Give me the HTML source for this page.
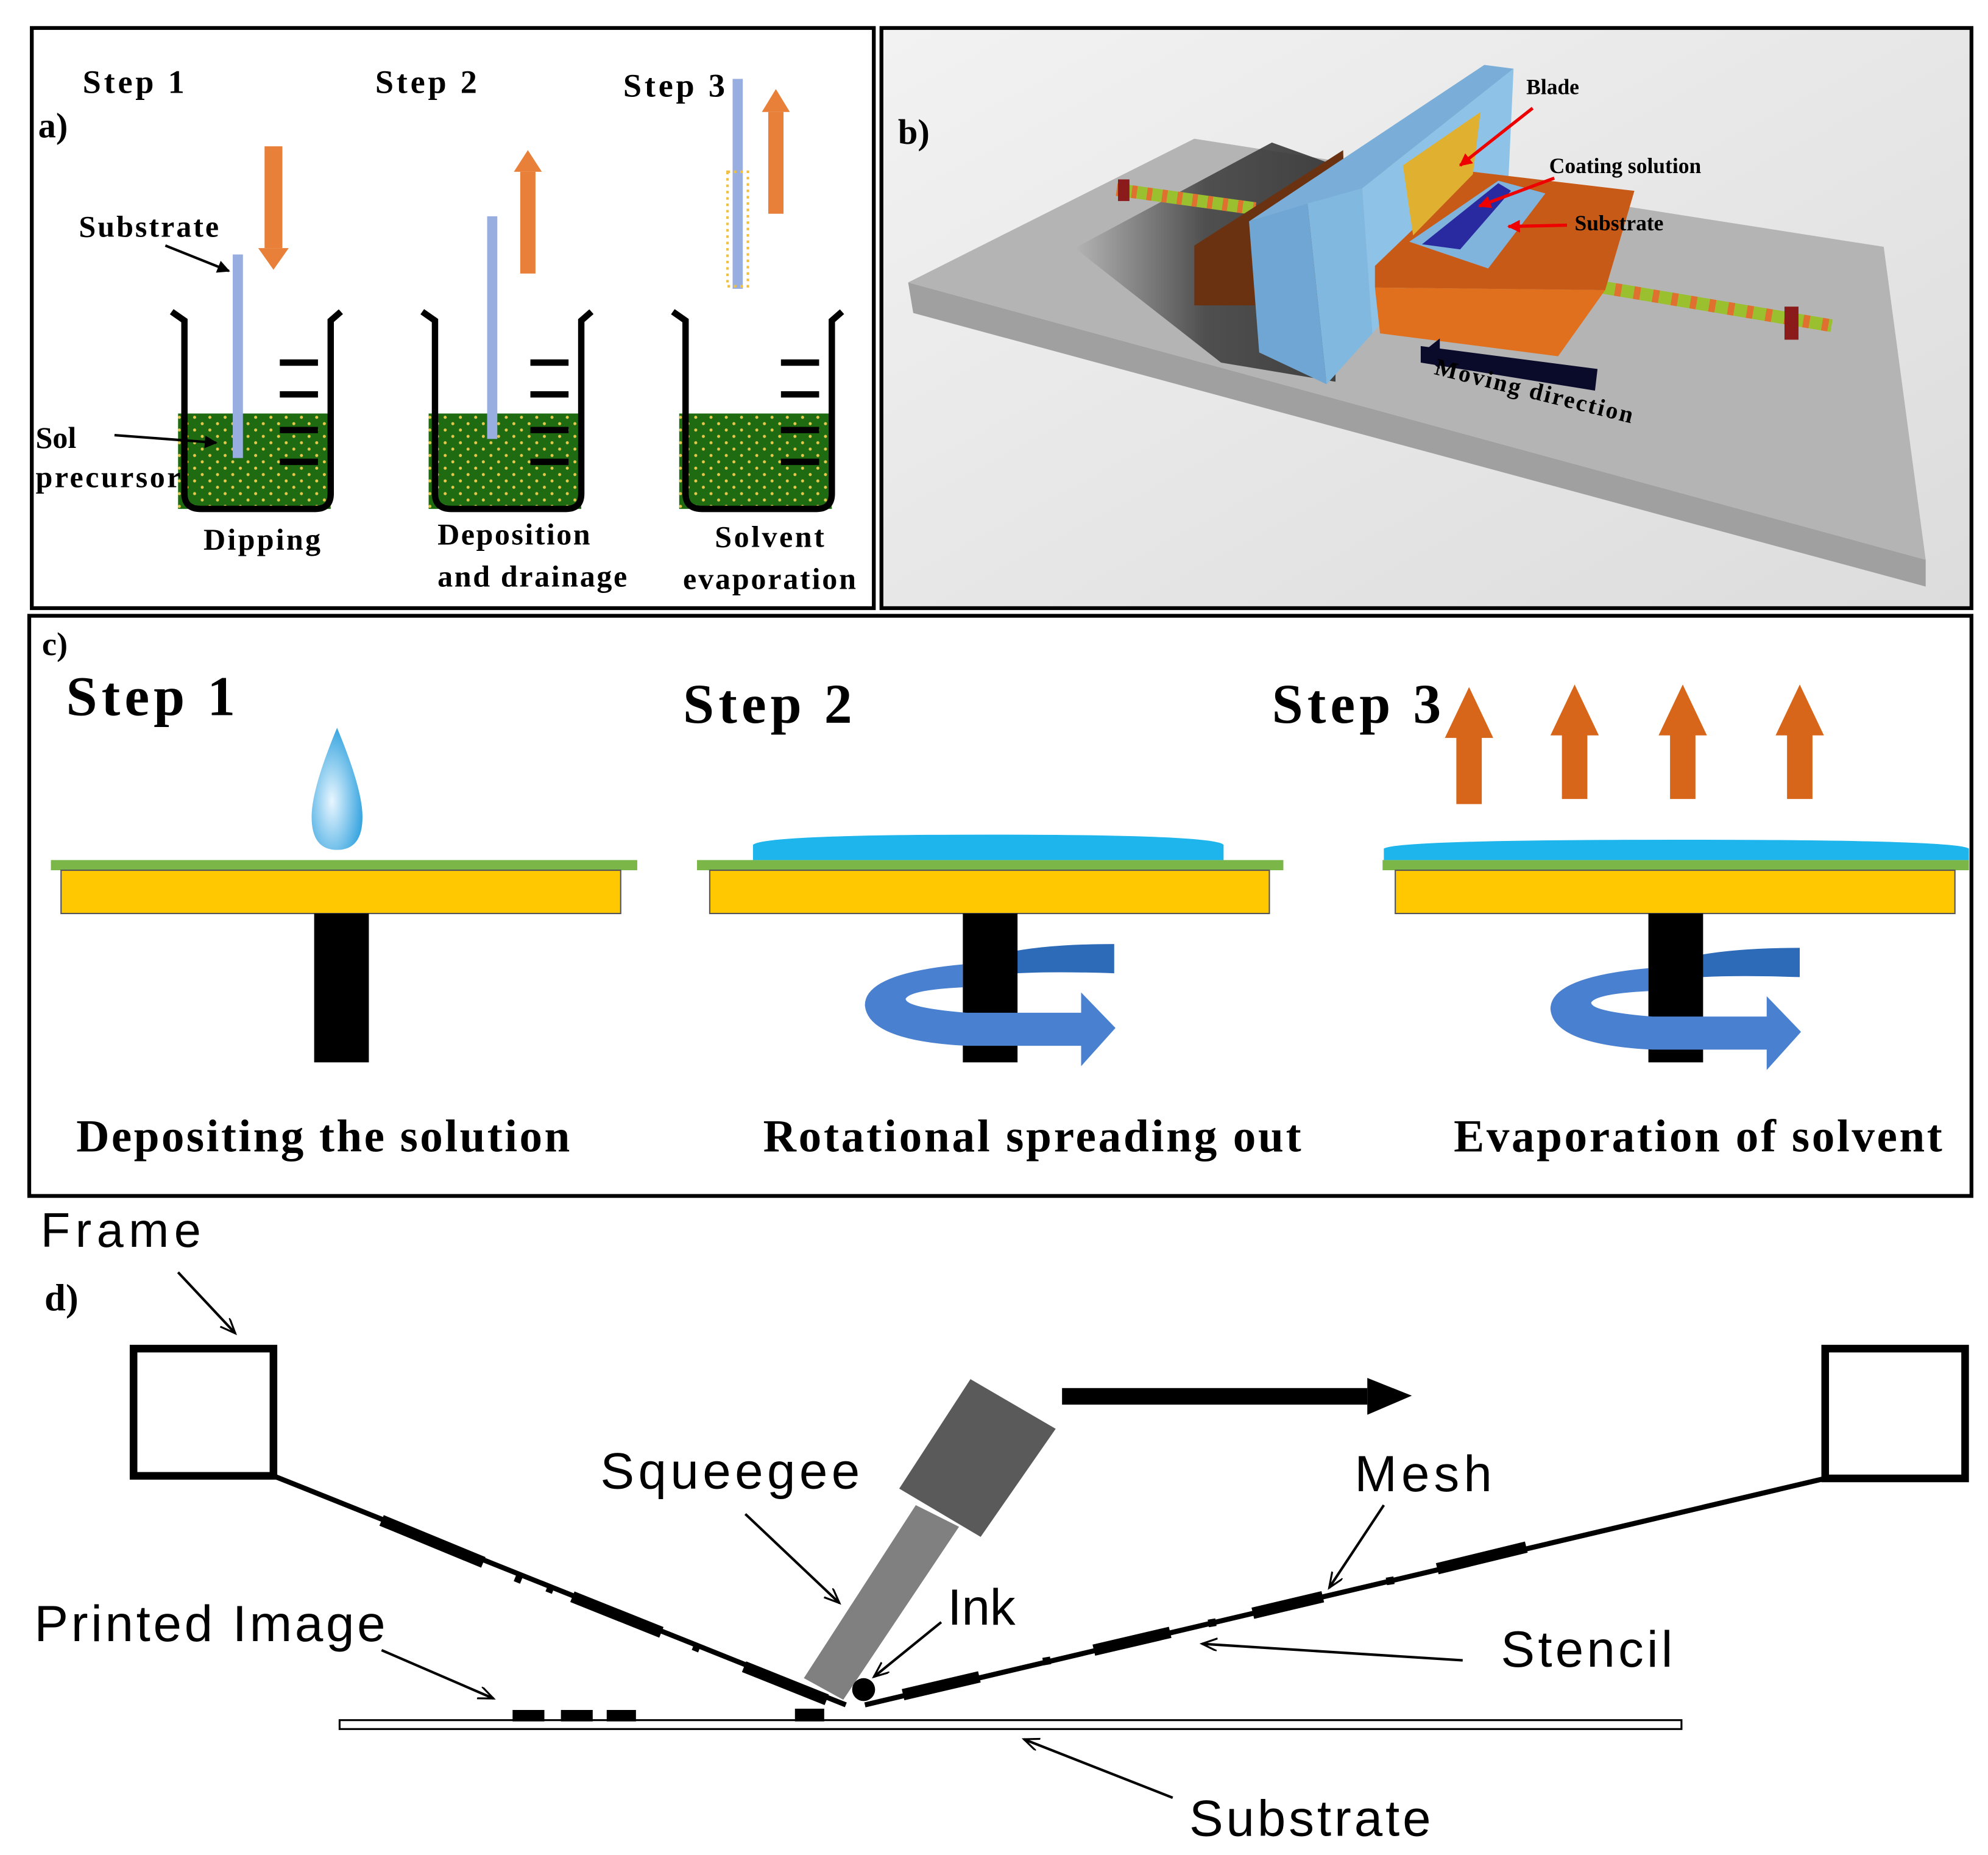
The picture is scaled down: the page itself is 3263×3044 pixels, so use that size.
<!DOCTYPE html>
<html><head><meta charset="utf-8"><style>
html,body{margin:0;padding:0;background:#fff;}
svg{display:block;}
.s{font-family:"Liberation Serif",serif;font-weight:bold;fill:#000;}
.a{font-family:"Liberation Sans",sans-serif;fill:#000;}
</style></head><body>
<svg width="3263" height="3044" viewBox="0 0 1563 1458" preserveAspectRatio="none" xmlns="http://www.w3.org/2000/svg">
<defs>
<marker id="ar" markerWidth="10" markerHeight="10" refX="9" refY="5" orient="auto" markerUnits="userSpaceOnUse"><path d="M0,0 L10,5 L0,10 z" fill="#000"/></marker>
<marker id="ao" markerWidth="14" markerHeight="14" refX="12" refY="5" orient="auto" markerUnits="userSpaceOnUse"><path d="M0,0 L12,5 L0,10" fill="none" stroke="#000" stroke-width="1.5"/></marker>
<marker id="rr" markerWidth="10" markerHeight="10" refX="9" refY="5" orient="auto" markerUnits="userSpaceOnUse"><path d="M0,0 L10,5 L0,10 z" fill="#e00"/></marker>
<pattern id="dots" width="12" height="10" patternUnits="userSpaceOnUse"><rect width="12" height="10" fill="#1e6b12"/><circle cx="3" cy="3" r="1.2" fill="#e8c84a"/><circle cx="9" cy="8" r="1.2" fill="#e8c84a"/></pattern>
<linearGradient id="bg" x1="0" y1="0" x2="1" y2="1"><stop offset="0" stop-color="#f2f2f2"/><stop offset="1" stop-color="#dcdcdc"/></linearGradient>
<linearGradient id="sh" x1="0" y1="0" x2="1" y2="0"><stop offset="0" stop-color="#b4b4b4"/><stop offset="0.5" stop-color="#444"/><stop offset="1" stop-color="#333"/></linearGradient>
<radialGradient id="drop" cx="0.4" cy="0.6" r="0.6"><stop offset="0" stop-color="#e8f6ff"/><stop offset="1" stop-color="#3aa6e0"/></radialGradient>
</defs>

<!-- Panel a -->
<rect x="25" y="22" width="662" height="456" fill="#fff" stroke="#000" stroke-width="3"/>
<text class="s" x="65" y="73" font-size="26" textLength="80">Step 1</text>
<text class="s" x="295" y="73" font-size="26" textLength="80">Step 2</text>
<text class="s" x="490" y="76" font-size="26" textLength="80">Step 3</text>
<text class="s" x="30" y="108" font-size="28">a)</text>
<text class="s" x="62" y="186" font-size="24" textLength="110">Substrate</text>
<line x1="130" y1="193" x2="180" y2="213" stroke="#000" stroke-width="2" marker-end="url(#ar)"/>
<g>
<rect x="140" y="325" width="120" height="75" fill="url(#dots)"/>
<path d="M135,245 L145,252 L145,388 Q145,400 158,400 L248,400 Q260,400 260,388 L260,252 L268,245" fill="none" stroke="#000" stroke-width="5"/>
<line x1="220" y1="285" x2="250" y2="285" stroke="#000" stroke-width="5"/><line x1="220" y1="310" x2="250" y2="310" stroke="#000" stroke-width="5"/>
<line x1="220" y1="338" x2="250" y2="338" stroke="#000" stroke-width="5"/><line x1="220" y1="363" x2="250" y2="363" stroke="#000" stroke-width="5"/>
<rect x="183" y="200" width="8" height="160" fill="#98aee0"/>
<rect x="208" y="115" width="14" height="80" fill="#e8803a"/><path d="M203,195 L227,195 L215,212 z" fill="#e8803a"/>
</g>
<g transform="translate(197,0)">
<rect x="140" y="325" width="120" height="75" fill="url(#dots)"/>
<path d="M135,245 L145,252 L145,388 Q145,400 158,400 L248,400 Q260,400 260,388 L260,252 L268,245" fill="none" stroke="#000" stroke-width="5"/>
<line x1="220" y1="285" x2="250" y2="285" stroke="#000" stroke-width="5"/><line x1="220" y1="310" x2="250" y2="310" stroke="#000" stroke-width="5"/>
<line x1="220" y1="338" x2="250" y2="338" stroke="#000" stroke-width="5"/><line x1="220" y1="363" x2="250" y2="363" stroke="#000" stroke-width="5"/>
<rect x="186" y="170" width="8" height="175" fill="#98aee0"/>
<rect x="212" y="135" width="12" height="80" fill="#e8803a"/><path d="M207,135 L229,135 L218,118 z" fill="#e8803a"/>
</g>
<g transform="translate(394,0)">
<rect x="140" y="325" width="120" height="75" fill="url(#dots)"/>
<path d="M135,245 L145,252 L145,388 Q145,400 158,400 L248,400 Q260,400 260,388 L260,252 L268,245" fill="none" stroke="#000" stroke-width="5"/>
<line x1="220" y1="285" x2="250" y2="285" stroke="#000" stroke-width="5"/><line x1="220" y1="310" x2="250" y2="310" stroke="#000" stroke-width="5"/>
<line x1="220" y1="338" x2="250" y2="338" stroke="#000" stroke-width="5"/><line x1="220" y1="363" x2="250" y2="363" stroke="#000" stroke-width="5"/>
<rect x="182" y="62" width="8" height="165" fill="#98aee0"/>
<rect x="178" y="135" width="16" height="90" fill="none" stroke="#f0c040" stroke-width="2" stroke-dasharray="2 3"/>
<rect x="210" y="88" width="12" height="80" fill="#e8803a"/><path d="M205,88 L227,88 L216,70 z" fill="#e8803a"/>
</g>
<text class="s" x="28" y="352" font-size="24" font-weight="normal">Sol</text>
<text class="s" x="28" y="383" font-size="24" font-weight="normal" textLength="114">precursor</text>
<line x1="90" y1="342" x2="170" y2="348" stroke="#000" stroke-width="2" marker-end="url(#ar)"/>
<text class="s" x="160" y="432" font-size="24" textLength="92">Dipping</text>
<text class="s" x="344" y="428" font-size="24" textLength="120">Deposition</text>
<text class="s" x="344" y="461" font-size="24" textLength="149">and drainage</text>
<text class="s" x="562" y="430" font-size="24" textLength="86">Solvent</text>
<text class="s" x="537" y="463" font-size="24" textLength="136">evaporation</text>

<!-- Panel b -->
<rect x="693" y="22" width="857" height="456" fill="url(#bg)" stroke="#000" stroke-width="3"/>
<polygon points="714,222 939,109 1481,194 1514,440" fill="#b4b4b4"/>
<polygon points="714,222 1514,440 1514,461 718,246" fill="#a0a0a0"/>
<polygon points="845,195 1000,112 1050,130 1050,300 960,285" fill="url(#sh)" opacity="0.9"/>
<line x1="878" y1="149" x2="987" y2="164" stroke="#9ac030" stroke-width="10"/>
<line x1="878" y1="149" x2="987" y2="164" stroke="#e07030" stroke-width="10" stroke-dasharray="4 8"/>
<rect x="879" y="141" width="9" height="17" fill="#8b1a1a"/>
<line x1="1255" y1="225" x2="1440" y2="256" stroke="#9ac030" stroke-width="10"/>
<line x1="1255" y1="225" x2="1440" y2="256" stroke="#e07030" stroke-width="10" stroke-dasharray="5 10"/>
<rect x="1403" y="241" width="11" height="26" fill="#8b1a1a"/>
<polygon points="939,193 1056,118 1060,240 939,240" fill="#6a3210"/>
<polygon points="1071,148 1190,54 1186,140 1079,262" fill="#8ec2e6"/>
<polygon points="1081,209 1158,135 1285,150 1262,228 1081,226" fill="#c85a18"/>
<polygon points="1081,226 1262,228 1225,280 1085,262" fill="#e0701e"/>
<polygon points="1103,130 1164,88 1158,137 1111,185" fill="#e0b030"/>
<polygon points="1108,190 1178,142 1215,152 1170,211" fill="#80b4dc"/>
<polygon points="1118,192 1178,144 1188,150 1148,196" fill="#2a2aa0"/>
<polygon points="982,174 1167,51 1190,54 1071,148" fill="#7aaed8"/>
<polygon points="982,174 1028,160 1043,302 990,277" fill="#6fa6d4"/>
<polygon points="1028,160 1071,148 1079,262 1043,302" fill="#80b8e0"/>
<polygon points="1117,272 1256,290 1254,307 1117,285" fill="#0a0a2a"/>
<path d="M1117,278 L1132,266 L1132,290 z" fill="#0a0a2a"/>
<text class="s" x="706" y="113" font-size="28">b)</text>
<text class="s" x="1200" y="74" font-size="17">Blade</text>
<text class="s" x="1218" y="136" font-size="17">Coating solution</text>
<text class="s" x="1238" y="181" font-size="17">Substrate</text>
<line x1="1205" y1="85" x2="1148" y2="130" stroke="#e00" stroke-width="2.5" marker-end="url(#rr)"/>
<line x1="1222" y1="140" x2="1163" y2="162" stroke="#e00" stroke-width="2.5" marker-end="url(#rr)"/>
<line x1="1232" y1="177" x2="1186" y2="178" stroke="#e00" stroke-width="2.5" marker-end="url(#rr)"/>
<text class="s" x="1127" y="294" font-size="19" transform="rotate(14 1127 294)" textLength="160">Moving direction</text>

<!-- Panel c -->
<rect x="23" y="484" width="1527" height="456" fill="#fff" stroke="#000" stroke-width="3"/>
<text class="s" x="33" y="515" font-size="26">c)</text>
<text class="s" x="52" y="562" font-size="44" textLength="133">Step 1</text>
<text class="s" x="537" y="568" font-size="44" textLength="133">Step 2</text>
<text class="s" x="1000" y="568" font-size="44" textLength="133">Step 3</text>
<g>
<rect x="40" y="676" width="461" height="8" fill="#7ab648"/>
<rect x="48" y="684" width="440" height="34" fill="#ffc800" stroke="#555" stroke-width="1"/>
<rect x="247" y="718" width="43" height="117" fill="#000"/>
<path d="M265,572 Q245,620 245,642 Q245,668 265,668 Q285,668 285,642 Q285,620 265,572 z" fill="url(#drop)"/>
</g>
<g>
<rect x="548" y="676" width="461" height="8" fill="#7ab648"/>
<path d="M592,676 L592,664 Q600,656 777,656 Q955,656 962,664 L962,676 z" fill="#1eb4ec"/>
<rect x="558" y="684" width="440" height="34" fill="#ffc800" stroke="#555" stroke-width="1"/>
<path d="M876,742 L876,765 Q790,762 760,770 L760,760 Q790,742 876,742 z" fill="#2d6ab8"/>
<rect x="757" y="718" width="43" height="117" fill="#000"/>
<path d="M757,758 Q680,765 680,790 Q682,818 760,822 L850,822 L850,838 L877,808 L850,780 L850,796 L760,796 Q712,792 712,785 Q716,778 757,776 z" fill="#4a80d0"/>
</g>
<g transform="translate(539,3)">
<rect x="548" y="673" width="461" height="8" fill="#7ab648"/>
<path d="M549,673 L549,664 Q560,657 780,657 Q1000,657 1009,664 L1009,673 z" fill="#1eb4ec"/>
<rect x="558" y="681" width="440" height="34" fill="#ffc800" stroke="#555" stroke-width="1"/>
<path d="M876,742 L876,765 Q790,762 760,770 L760,760 Q790,742 876,742 z" fill="#2d6ab8"/>
<rect x="757" y="715" width="43" height="117" fill="#000"/>
<path d="M757,758 Q680,765 680,790 Q682,818 760,822 L850,822 L850,838 L877,808 L850,780 L850,796 L760,796 Q712,792 712,785 Q716,778 757,776 z" fill="#4a80d0"/>
</g>
<g fill="#d8661a">
<path d="M1145,632 L1145,580 L1136,580 L1155,540 L1174,580 L1165,580 L1165,632 z"/>
<path d="M1228,628 L1228,578 L1219,578 L1238,538 L1257,578 L1248,578 L1248,628 z"/>
<path d="M1313,628 L1313,578 L1304,578 L1323,538 L1342,578 L1333,578 L1333,628 z"/>
<path d="M1405,628 L1405,578 L1396,578 L1415,538 L1434,578 L1425,578 L1425,628 z"/>
</g>
<text class="s" x="60" y="905" font-size="36" textLength="388">Depositing the solution</text>
<text class="s" x="600" y="905" font-size="36" textLength="423">Rotational spreading out</text>
<text class="s" x="1143" y="905" font-size="36" textLength="384">Evaporation of solvent</text>

<!-- Panel d -->
<text class="a" x="32" y="980" font-size="38" textLength="126">Frame</text>
<line x1="140" y1="1000" x2="185" y2="1048" stroke="#000" stroke-width="2" marker-end="url(#ao)"/>
<text class="s" x="35" y="1030" font-size="30">d)</text>
<rect x="105" y="1060" width="110" height="100" fill="none" stroke="#000" stroke-width="6"/>
<rect x="1435" y="1060" width="110" height="102" fill="none" stroke="#000" stroke-width="6"/>
<line x1="215" y1="1160" x2="665" y2="1340" stroke="#000" stroke-width="4"/>
<line x1="1435" y1="1162" x2="680" y2="1340" stroke="#000" stroke-width="4"/>
<g stroke="#000" stroke-width="9">
<line x1="300" y1="1195" x2="380" y2="1228"/><line x1="450" y1="1255" x2="520" y2="1283"/><line x1="585" y1="1310" x2="650" y2="1336"/>
<line x1="710" y1="1332" x2="770" y2="1318"/><line x1="860" y1="1297" x2="920" y2="1283"/><line x1="985" y1="1268" x2="1040" y2="1255"/><line x1="1130" y1="1233" x2="1200" y2="1216"/>
</g>
<g stroke="#000" stroke-width="6">
<line x1="405" y1="1240" x2="410" y2="1242"/><line x1="430" y1="1248" x2="435" y2="1250"/><line x1="545" y1="1294" x2="550" y2="1296"/>
<line x1="820" y1="1306" x2="826" y2="1305"/><line x1="950" y1="1276" x2="956" y2="1275"/><line x1="1090" y1="1243" x2="1096" y2="1242"/>
</g>
<rect x="267" y="1352" width="1055" height="7" fill="#fff" stroke="#000" stroke-width="1.5"/>
<g fill="#000"><rect x="403" y="1344" width="25" height="9"/><rect x="441" y="1344" width="25" height="9"/><rect x="477" y="1344" width="23" height="9"/><rect x="625" y="1343" width="23" height="10"/></g>
<polygon points="763,1084 830,1123 771,1208 707,1170" fill="#5a5a5a"/>
<polygon points="720,1183 754,1200 663,1336 632,1319" fill="#808080"/>
<circle cx="679" cy="1328" r="9" fill="#000"/>
<rect x="835" y="1091" width="240" height="13" fill="#000"/>
<path d="M1075,1083 L1110,1097 L1075,1112 z" fill="#000"/>
<text class="a" x="472" y="1170" font-size="40" textLength="204">Squeegee</text>
<line x1="586" y1="1190" x2="660" y2="1260" stroke="#000" stroke-width="2" marker-end="url(#ao)"/>
<text class="a" x="1065" y="1172" font-size="40" textLength="108">Mesh</text>
<line x1="1088" y1="1183" x2="1045" y2="1248" stroke="#000" stroke-width="2" marker-end="url(#ao)"/>
<text class="a" x="745" y="1277" font-size="40">Ink</text>
<line x1="740" y1="1275" x2="687" y2="1318" stroke="#000" stroke-width="2" marker-end="url(#ao)"/>
<text class="a" x="27" y="1290" font-size="40" textLength="276">Printed Image</text>
<line x1="300" y1="1297" x2="388" y2="1335" stroke="#000" stroke-width="2" marker-end="url(#ao)"/>
<text class="a" x="1180" y="1310" font-size="40" textLength="135">Stencil</text>
<line x1="1150" y1="1305" x2="945" y2="1292" stroke="#000" stroke-width="2" marker-end="url(#ao)"/>
<text class="a" x="935" y="1443" font-size="40" textLength="190">Substrate</text>
<line x1="922" y1="1413" x2="805" y2="1367" stroke="#000" stroke-width="2" marker-end="url(#ao)"/>
</svg>
</body></html>
